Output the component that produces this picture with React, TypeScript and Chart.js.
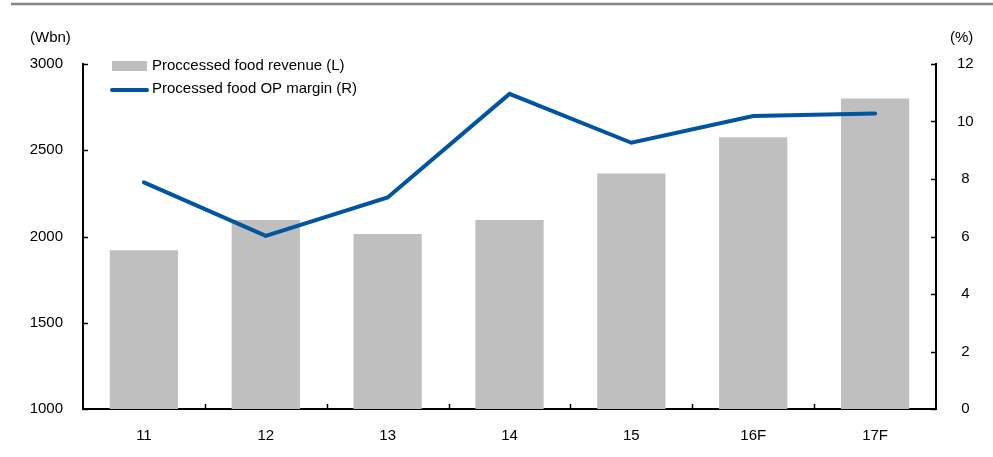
import React, { useEffect, useRef } from "react";
import { Chart, registerables } from "chart.js";

Chart.register(...registerables);

const categories = ["11", "12", "13", "14", "15", "16F", "17F"];
const revenue = [1920, 2095, 2015, 2095, 2365, 2575, 2800];
const opMargin = [7.88, 6.02, 7.36, 10.96, 9.26, 10.19, 10.28];
const revenueLabel = "Proccessed food revenue (L)";
const marginLabel = "Processed food OP margin (R)";
const leftUnit = "(Wbn)";
const rightUnit = "(%)";

const FONT = "'Liberation Sans', Arial, sans-serif";
const BAR_COLOR = "#BFBFBF";
const LINE_COLOR = "#0054A0";

const decorPlugin = {
  id: "decor",
  beforeDraw(chart: any) {
    const ctx = chart.ctx;
    ctx.save();
    ctx.fillStyle = "#ffffff";
    ctx.fillRect(0, 0, chart.width, chart.height);
    ctx.strokeStyle = "#858585";
    ctx.lineWidth = 2.5;
    ctx.beginPath();
    ctx.moveTo(11, 4);
    ctx.lineTo(chart.width, 4);
    ctx.stroke();
    ctx.restore();
  },
  afterDraw(chart: any) {
    const ctx = chart.ctx;
    const area = chart.chartArea;
    const y = chart.scales.y;
    const y1 = chart.scales.y1;
    const x = chart.scales.x;
    ctx.save();
    ctx.strokeStyle = "#000";
    ctx.lineWidth = 1.5;
    y.ticks.forEach((t: any) => {
      const p = Math.round(y.getPixelForValue(t.value)) + 0.5;
      ctx.beginPath();
      ctx.moveTo(area.left, p);
      ctx.lineTo(area.left + 5, p);
      ctx.stroke();
    });
    y1.ticks.forEach((t: any) => {
      const p = Math.round(y1.getPixelForValue(t.value)) + 0.5;
      ctx.beginPath();
      ctx.moveTo(area.right, p);
      ctx.lineTo(area.right - 5, p);
      ctx.stroke();
    });
    for (let i = 0; i < categories.length - 1; i++) {
      const p = Math.round((x.getPixelForValue(i) + x.getPixelForValue(i + 1)) / 2) + 0.5;
      ctx.beginPath();
      ctx.moveTo(p, area.bottom);
      ctx.lineTo(p, area.bottom - 5);
      ctx.stroke();
    }
    ctx.fillStyle = "#000";
    ctx.font = `15px ${FONT}`;
    ctx.textBaseline = "middle";
    ctx.textAlign = "left";
    ctx.fillText(leftUnit, 30, 38);
    ctx.fillText(rightUnit, 950, 38);
    const ds = chart.data.datasets;
    const bar = ds.find((d: any) => d.type === "bar");
    const line = ds.find((d: any) => d.type === "line");
    const lx = area.left;
    ctx.fillStyle = bar.backgroundColor;
    ctx.fillRect(lx + 29, 61, 35, 10);
    ctx.fillStyle = "#000";
    ctx.fillText(bar.label, lx + 69, 66);
    ctx.strokeStyle = line.borderColor;
    ctx.lineWidth = 4;
    ctx.lineCap = "round";
    ctx.beginPath();
    ctx.moveTo(lx + 29, 90);
    ctx.lineTo(lx + 64, 90);
    ctx.stroke();
    ctx.fillText(line.label, lx + 69, 89);
    ctx.restore();
  },
};

export default function App() {
  const canvasRef = useRef<HTMLCanvasElement | null>(null);

  useEffect(() => {
    const canvas = canvasRef.current;
    if (!canvas) return;
    Chart.defaults.font.family = FONT;
    Chart.defaults.font.size = 15;
    Chart.defaults.color = "#000";
    const chart = new Chart(canvas, {
      data: {
        labels: categories,
        datasets: [
          {
            type: "line",
            label: marginLabel,
            data: opMargin,
            yAxisID: "y1",
            borderColor: LINE_COLOR,
            backgroundColor: LINE_COLOR,
            borderWidth: 4,
            pointRadius: 0,
            tension: 0,
            borderCapStyle: "round",
            borderJoinStyle: "miter",
            order: 0,
          },
          {
            type: "bar",
            label: revenueLabel,
            data: revenue,
            yAxisID: "y",
            backgroundColor: BAR_COLOR,
            barPercentage: 0.56,
            categoryPercentage: 1,
            order: 1,
          },
        ],
      } as any,
      options: {
        responsive: false,
        animation: false,
        devicePixelRatio: 1,
        layout: { padding: { top: 64, left: 0, right: 0, bottom: 0 } },
        plugins: { legend: { display: false }, tooltip: { enabled: false } },
        scales: {
          x: {
            type: "category",
            offset: true,
            grid: { display: false, drawTicks: false },
            border: { display: true, color: "#000", width: 2 },
            ticks: { padding: 18, font: { size: 15 } },
            afterFit(scale: any) {
              scale.height = 48;
            },
          },
          y: {
            position: "left",
            min: 1000,
            max: 3000,
            grid: { display: false, drawTicks: false },
            border: { display: true, color: "#000", width: 2 },
            ticks: {
              stepSize: 500,
              padding: 20,
              font: { size: 15 },
              callback: (v: any) => String(v),
            },
            afterFit(scale: any) {
              scale.width = 83;
            },
          },
          y1: {
            position: "right",
            min: 0,
            max: 12,
            grid: { display: false, drawTicks: false },
            border: { display: true, color: "#000", width: 2 },
            ticks: {
              stepSize: 2,
              padding: 21,
              crossAlign: "center",
              font: { size: 15 },
              callback: (v: any) => String(v),
            },
            afterFit(scale: any) {
              scale.width = 57;
            },
          },
        },
      } as any,
      plugins: [decorPlugin],
    });
    return () => chart.destroy();
  }, []);

  return (
    <div style={{ position: "absolute", left: 0, top: 0, width: 993, height: 457 }}>
      <canvas ref={canvasRef} width={993} height={457} />
    </div>
  );
}
